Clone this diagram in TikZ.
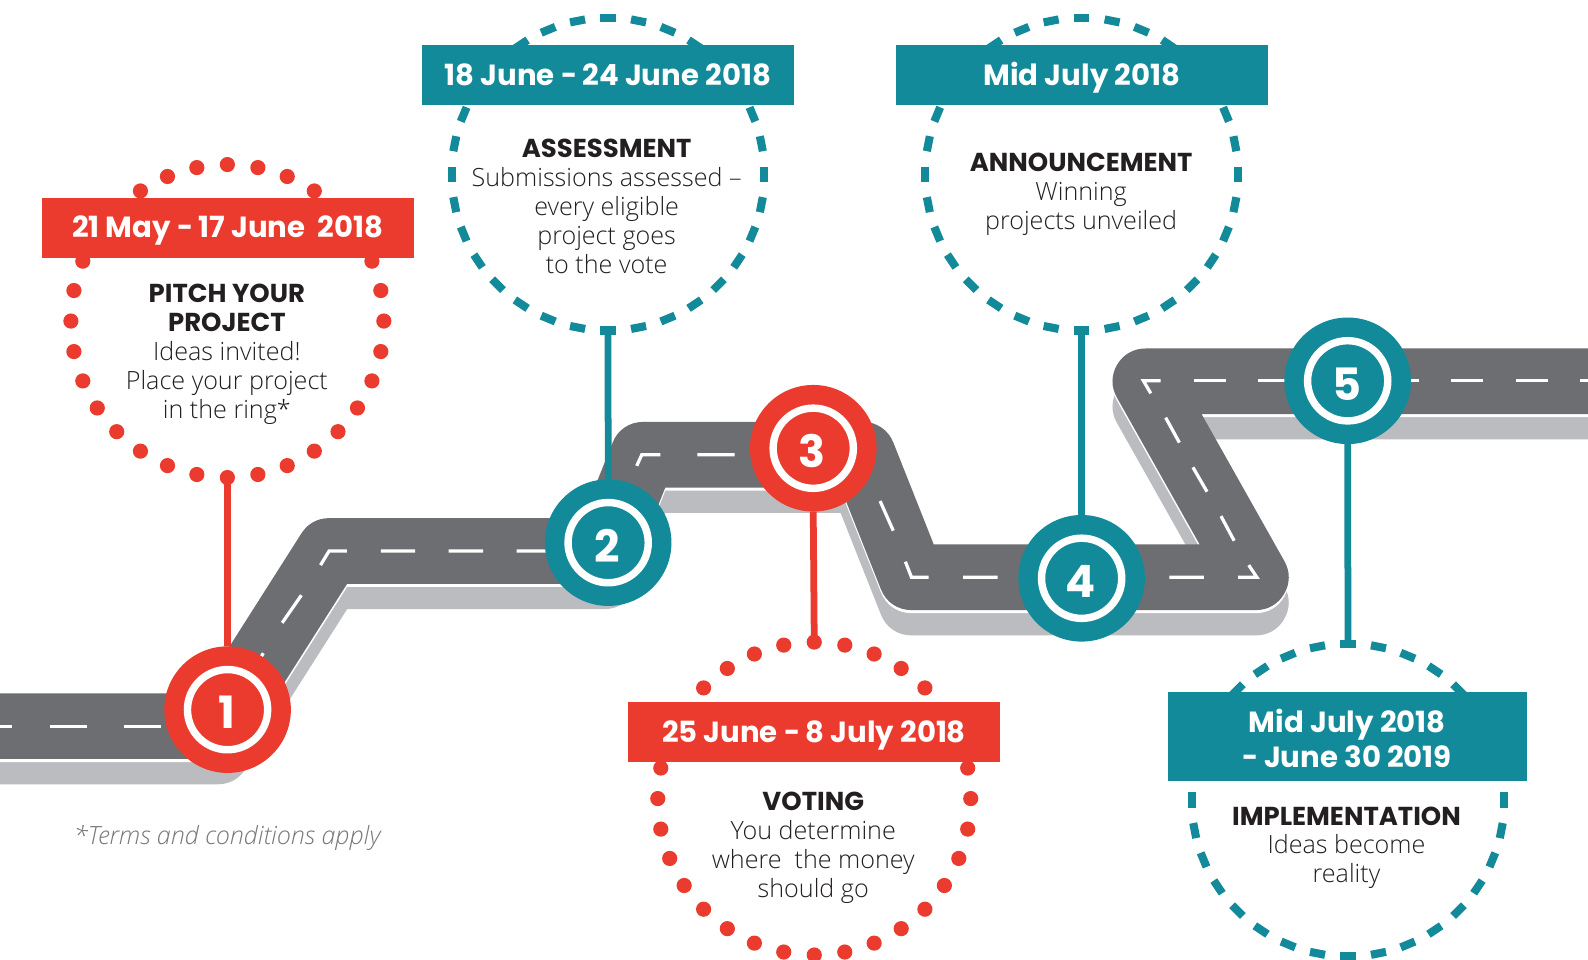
\documentclass[tikz,border=0pt]{standalone}
\usepackage{graphicx}
\usepackage{fontspec}
\setmainfont{Open Sans}
\newfontfamily\headfont{Poppins}[UprightFont=* Bold,BoldFont=* Bold]
\newfontfamily\bodyfont{Open Sans Light}
\newfontfamily\notefont{Open Sans Light Italic}
\definecolor{rred}{HTML}{EA3B2E}
\definecolor{tteal}{HTML}{138A99}
\definecolor{roadgrey}{HTML}{6D6E71}
\definecolor{shadowgrey}{HTML}{BBBCBF}
\definecolor{inkblack}{HTML}{231F20}
\definecolor{notegrey}{HTML}{77787B}
\tikzset{
  ringnode/.style={circle,minimum size=231.75pt,inner sep=0pt,outer sep=0pt},
  stopnode/.style={circle,minimum size=93.75pt,inner sep=0pt,outer sep=0pt},
  stopring/.style={draw=white,line width=5.5pt},
  stopnum/.style={text=white,font=\headfont\fontsize{33}{33}\selectfont,inner sep=0pt,xshift=-0.75pt,yshift=-2.2pt},
  datebox/.style={minimum width=275.4pt,minimum height=44.4pt,inner sep=0pt,outer sep=0pt,text=white,font=\headfont\fontsize{21.6}{26.2}\selectfont,align=center},
  dateline/.style={datebox,text height=15.2pt,text depth=0pt},
  blurb/.style={text=inkblack,font=\bodyfont\fontsize{18.6}{21.4}\selectfont,align=center,inner sep=0pt},
  roadline/.style={line width=48.6pt,line join=round},
  lane/.style={white,line width=2.4pt},
  link/.style={line width=5pt},
}
\newcommand{\roadpath}{(-60,717) -- (215,717) -- (325,544) -- (597,544) -- (635,449) -- (852,449) -- (900,570) -- (1240,570) -- (1131,376.5) -- (1640,376.5)}
\newcommand{\dashring}[1]{\foreach \a in {0,11.25,...,349}{\draw[tteal,line width=6pt] ([shift={(\a-2.8:154.5)}]#1.center) -- ([shift={(\a+2.8:154.5)}]#1.center);}}
\newcommand{\dotring}[1]{\foreach \a in {0,11.25,...,349}{\fill[rred] ([shift={(\a:154.5)}]#1.center) circle (7.5);}}
\newcommand{\hd}[1]{{\headfont\fontsize{19.2}{21.4}\selectfont #1}}
\newcommand{\sd}{\scalebox{.75}[1]{–}}
\begin{document}
\begin{tikzpicture}[x=0.75pt,y=-0.75pt]
\useasboundingbox (0,0) rectangle (1568,947.9);
\clip (0,0) rectangle (1568,947.9);
\fill[white] (0,0) rectangle (1568,947.9);
% road
\draw[roadline,shadowgrey,shift={(0,25)}] \roadpath;
\draw[roadline,white,shift={(0,3)}] \roadpath;
\draw[roadline,roadgrey] \roadpath;
% lane marks
\draw[lane] (0,717)--(12,717) (49,717)--(85.5,717) (122,717)--(158.7,717);
\draw[lane] (260,645)--(240,677) (297.6,587.7)--(278.6,615);
\draw[lane] (316.5,558)--(325,544)--(342.5,544) (376,544)--(410,544) (443,544)--(477,544) (510,544)--(545,544);
\draw[lane] (628.7,460)--(633.7,449)--(652,449) (688.6,449)--(725.4,449);
\draw[lane] (869,494.7)--(882,524) (894,554.6)--(900,570)--(917,570) (951,570)--(985,570) (1154.6,570)--(1188.8,570) (1222.5,570)--(1241,570)--(1233,558);
\draw[lane] (1205.6,509.6)--(1218.6,533.9) (1177.9,461.4)--(1191.8,485.5) (1151,412.4)--(1164.5,437) (1136.3,388.4)--(1129,376)--(1146.1,376);
\draw[lane] (1179,376)--(1210.5,376) (1242,376)--(1275,376) (1392.7,376)--(1401,376) (1432.7,376)--(1464.6,376) (1497,376)--(1528,376) (1560,376)--(1568,376);
% rings
\node[ringnode] (ringa) at (224.5,317) {};
\node[ringnode] (ringb) at (600.4,172) {};
\node[ringnode] (ringc) at (804,788.5) {};
\node[ringnode] (ringd) at (1068,172) {};
\node[ringnode] (ringe) at (1331,790) {};
\dotring{ringa}
\dashring{ringb}
\dotring{ringc}
\dashring{ringd}
\dashring{ringe}
% stops
\node[stopnode] (stopa) at (224.7,700.7) {};
\node[stopnode] (stopb) at (600.5,535.8) {};
\node[stopnode] (stopc) at (803,442.6) {};
\node[stopnode] (stopd) at (1068,571) {};
\node[stopnode] (stope) at (1330.7,376) {};
% connectors
\draw[link,rred] (ringa.south) -- (stopa.north);
\draw[link,tteal] (ringb.south) -- (stopb.north);
\draw[link,rred] (stopc.south) -- (ringc.north);
\draw[link,tteal] (ringd.south) -- (stopd.north);
\draw[link,tteal] (stope.south) -- (ringe.north);
\foreach \s/\c in {stopa/rred,stopb/tteal,stopc/rred,stopd/tteal,stope/tteal}{
  \fill[\c] (\s.center) circle (62.5);
  \draw[stopring] (\s.center) circle (39.6);
}
\node[stopnum] (numa) at (stopa) {1};
\node[stopnum] (numb) at (stopb) {2};
\node[stopnum] (numc) at (stopc) {3};
\node[stopnum] (numd) at (stopd) {4};
\node[stopnum] (nume) at (stope) {5};
% date boxes
\node[dateline,fill=rred,text height=14.5pt] (datea) at (224.9,225) {21 May \sd{} 17 June\ \ 2018};
\node[dateline,fill=tteal] (dateb) at (600.2,74) {18 June \sd{} 24 June 2018};
\node[dateline,fill=rred] (datec) at (803.7,722.7) {25 June \sd{} 8 July 2018};
\node[dateline,fill=tteal] (dated) at (1068.3,74) {Mid July 2018};
\node[datebox,fill=tteal,minimum width=265.9pt,minimum height=65.6pt,text depth=0pt] (datee) at (1330.3,727.3) {\raisebox{-2.2pt}{Mid July 2018}\\\raisebox{-2.2pt}{\sd{} June 30 2019}};
% blurbs
\node[blurb] (texta) at (224,350) {\hd{PITCH YOUR}\\\hd{PROJECT}\\Ideas invited!\\Place your project\\in the ring*};
\node[blurb] (textb) at (599,203.5) {\hd{ASSESSMENT}\\Submissions assessed –\\every eligible\\project goes\\to the vote};
\node[blurb] (textc) at (803,837) {\hd{VOTING}\\You determine\\where\ \ the money\\should go};
\node[blurb] (textd) at (1067.5,192) {\hd{ANNOUNCEMENT}\\Winning\\projects unveiled};
\node[blurb] (texte) at (1329.5,837) {\hd{IMPLEMENTATION}\\Ideas become\\reality};
\node[text=notegrey,font=\notefont\fontsize{18.6}{20}\selectfont,inner sep=0pt] (note) at (224.5,827.5) {*Terms and conditions apply};
\end{tikzpicture}
\end{document}
